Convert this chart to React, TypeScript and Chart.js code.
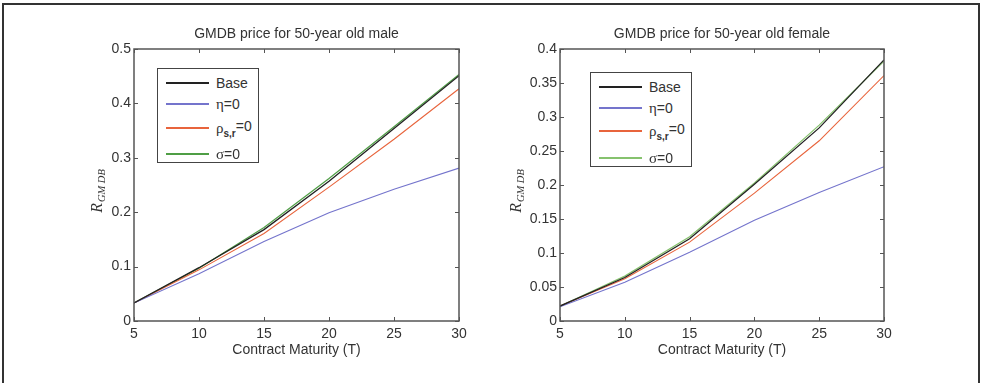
import React, { useEffect, useRef } from "react";
import { Chart, registerables } from "chart.js";

Chart.register(...registerables);

// ---- data ----
const maturities = [5, 10, 15, 20, 25, 30];
const xTicks = [5, 10, 15, 20, 25, 30];

const maleBase = [0.033, 0.098, 0.168, 0.257, 0.354, 0.451];
const maleEta = [0.033, 0.087, 0.146, 0.199, 0.242, 0.281];
const maleRho = [0.033, 0.094, 0.161, 0.246, 0.334, 0.427];
const maleSigma = [0.033, 0.097, 0.172, 0.262, 0.357, 0.453];
const maleYTicks = [0, 0.1, 0.2, 0.3, 0.4, 0.5];
const maleYLabels = ["0", "0.1", "0.2", "0.3", "0.4", "0.5"];

const femaleBase = [0.022, 0.064, 0.121, 0.201, 0.284, 0.384];
const femaleEta = [0.021, 0.057, 0.101, 0.148, 0.189, 0.227];
const femaleRho = [0.022, 0.062, 0.116, 0.188, 0.265, 0.361];
const femaleSigma = [0.022, 0.066, 0.124, 0.203, 0.288, 0.382];
const femaleYTicks = [0, 0.05, 0.1, 0.15, 0.2, 0.25, 0.3, 0.35, 0.4];
const femaleYLabels = ["0", "0.05", "0.1", "0.15", "0.2", "0.25", "0.3", "0.35", "0.4"];

const titleMale = "GMDB price for 50-year old male";
const titleFemale = "GMDB price for 50-year old female";
const xTitle = "Contract Maturity (T)";

const COL_BASE = "#222222";
const COL_ETA = "#7474cc";
const COL_RHO = "#e8643c";
const COL_SIGMA_M = "#4f9e45";
const COL_SIGMA_F = "#86c26e";

type Panel = {
  title: string;
  base: number[];
  eta: number[];
  rho: number[];
  sigma: number[];
  sigmaColor: string;
  yMax: number;
  yTicks: number[];
  yLabels: string[];
  yScaleWidth: number;
  padRight: number;
  yLabelX: number;
  canvasWidth: number;
};

const pts = (vals: number[]) => maturities.map((x, i) => ({ x, y: vals[i] }));

const axesBoxPlugin = {
  id: "axesBox",
  afterDraw(chart: any) {
    const { ctx, chartArea } = chart;
    const { left, right, top, bottom } = chartArea;
    const xs = chart.scales.x;
    const ys = chart.scales.y;
    ctx.save();
    ctx.strokeStyle = "#555555";
    ctx.lineWidth = 1.5;
    ctx.strokeRect(left, top, right - left, bottom - top);
    ctx.lineWidth = 1;
    ctx.beginPath();
    xs.ticks.forEach((t: any) => {
      const px = Math.round(xs.getPixelForValue(t.value)) + 0.5;
      ctx.moveTo(px, bottom);
      ctx.lineTo(px, bottom - 4);
      ctx.moveTo(px, top);
      ctx.lineTo(px, top + 4);
    });
    ys.ticks.forEach((t: any) => {
      const py = Math.round(ys.getPixelForValue(t.value)) + 0.5;
      ctx.moveTo(left, py);
      ctx.lineTo(left + 4, py);
      ctx.moveTo(right, py);
      ctx.lineTo(right - 4, py);
    });
    ctx.stroke();

    // y-axis label with subscript
    const lx = chart.options.plugins.yLabel?.x ?? 30;
    const cy = (top + bottom) / 2 + 6;
    ctx.translate(lx, cy);
    ctx.rotate(-Math.PI / 2);
    ctx.fillStyle = "#333333";
    ctx.textBaseline = "middle";
    ctx.textAlign = "left";
    ctx.font = "italic 16px 'Liberation Serif', 'DejaVu Serif', serif";
    const rW = ctx.measureText("R").width;
    ctx.font = "italic 10.5px 'Liberation Serif', 'DejaVu Serif', serif";
    const subW = ctx.measureText("GM DB").width;
    const total = rW + 1 + subW;
    ctx.font = "italic 16px 'Liberation Serif', 'DejaVu Serif', serif";
    ctx.fillText("R", -total / 2, 0);
    ctx.font = "italic 10.5px 'Liberation Serif', 'DejaVu Serif', serif";
    ctx.fillText("GM DB", -total / 2 + rW + 1, 4);
    ctx.restore();
  },
};

function PanelChart({ p }: { p: Panel }) {
  const ref = useRef<HTMLCanvasElement | null>(null);
  useEffect(() => {
    if (!ref.current) return;
    const chart = new Chart(ref.current, {
      type: "line",
      data: {
        datasets: [
          { label: "Base", data: pts(p.base), borderColor: COL_BASE, borderWidth: 1.3 },
          { label: "η=0", data: pts(p.eta), borderColor: COL_ETA, borderWidth: 1.1 },
          { label: "ρs,r=0", data: pts(p.rho), borderColor: COL_RHO, borderWidth: 1.1 },
          { label: "σ=0", data: pts(p.sigma), borderColor: p.sigmaColor, borderWidth: 1.2 },
        ],
      },
      options: {
        animation: false,
        responsive: false,
        maintainAspectRatio: false,
        layout: { padding: { left: 0, right: p.padRight, top: 0, bottom: 0 } },
        elements: { point: { radius: 0 }, line: { tension: 0 } },
        plugins: {
          legend: { display: false },
          tooltip: { enabled: false },
          title: {
            display: true,
            fullSize: false,
            align: "center",
            text: p.title,
            color: "#333333",
            font: { family: "Arial, 'Liberation Sans', sans-serif", size: 14, weight: "normal" },
            padding: { top: 26, bottom: 6.2 },
          },
          yLabel: { x: p.yLabelX },
        } as any,
        scales: {
          x: {
            type: "linear",
            min: 5,
            max: 30,
            afterBuildTicks: (s: any) => {
              s.ticks = xTicks.map((v) => ({ value: v }));
            },
            afterFit: (s: any) => {
              s.height = 62;
            },
            grid: { display: false, drawTicks: false },
            border: { display: false },
            ticks: {
              padding: 5,
              color: "#333333",
              font: { family: "Arial, 'Liberation Sans', sans-serif", size: 14 },
              callback: (v: any) => String(v),
              maxRotation: 0,
            },
            title: {
              display: true,
              text: xTitle,
              color: "#333333",
              font: { family: "Arial, 'Liberation Sans', sans-serif", size: 14 },
              padding: { top: 0, bottom: 24 },
            },
          },
          y: {
            type: "linear",
            min: 0,
            max: p.yMax,
            afterBuildTicks: (s: any) => {
              s.ticks = p.yTicks.map((v) => ({ value: v }));
            },
            afterFit: (s: any) => {
              s.width = p.yScaleWidth;
            },
            grid: { display: false, drawTicks: false },
            border: { display: false },
            ticks: {
              padding: 3,
              color: "#333333",
              font: { family: "Arial, 'Liberation Sans', sans-serif", size: 14 },
              callback: (v: any) => {
                const i = p.yTicks.findIndex((t) => Math.abs(t - v) < 1e-9);
                return i >= 0 ? p.yLabels[i] : "";
              },
            },
          },
        },
      } as any,
      plugins: [axesBoxPlugin],
    });
    return () => chart.destroy();
  }, [p]);
  return <canvas ref={ref} width={p.canvasWidth} height={383} style={{ width: p.canvasWidth, height: 383, display: "block" }} />;
}

const malePanel: Panel = {
  title: titleMale,
  base: maleBase,
  eta: maleEta,
  rho: maleRho,
  sigma: maleSigma,
  sigmaColor: COL_SIGMA_M,
  yMax: 0.5,
  yTicks: maleYTicks,
  yLabels: maleYLabels,
  yScaleWidth: 134,
  padRight: 31,
  yLabelX: 98,
  canvasWidth: 490,
};

const femalePanel: Panel = {
  title: titleFemale,
  base: femaleBase,
  eta: femaleEta,
  rho: femaleRho,
  sigma: femaleSigma,
  sigmaColor: COL_SIGMA_F,
  yMax: 0.4,
  yTicks: femaleYTicks,
  yLabels: femaleYLabels,
  yScaleWidth: 70,
  padRight: 99,
  yLabelX: 27,
  canvasWidth: 493,
};

const textFont = "Arial, 'Liberation Sans', sans-serif";
const greekFont = "'Liberation Serif', 'DejaVu Serif', serif";

function Legend({ left, top, sigmaColor, rows }: { left: number; top: number; sigmaColor: string; rows: number[] }) {
  const items: { color: string; content: React.ReactNode }[] = [
    { color: COL_BASE, content: <span>Base</span> },
    { color: COL_ETA, content: <span><span style={{ fontFamily: greekFont, fontSize: 15 }}>η</span>=0</span> },
    {
      color: COL_RHO,
      content: (
        <span>
          <span style={{ fontFamily: greekFont, fontSize: 15 }}>ρ</span>
          <sub style={{ fontSize: 10, fontWeight: "bold", verticalAlign: -4 }}>s,r</sub>
          <span style={{ position: "relative", top: -2 }}>=0</span>
        </span>
      ),
    },
    { color: sigmaColor, content: <span><span style={{ fontFamily: greekFont, fontSize: 15 }}>σ</span>=0</span> },
  ];
  return (
    <div
      style={{
        position: "absolute",
        left,
        top,
        width: 102,
        height: 95,
        border: "1.5px solid #444",
        background: "#fff",
        boxSizing: "border-box",
      }}
    >
      {items.map((it, i) => (
        <div key={i} style={{ position: "absolute", left: 0, top: rows[i] - 10, height: 20, width: 100 }}>
          <div style={{ position: "absolute", left: 8, top: 9, width: 43, height: 1.5, background: it.color }} />
          <div
            style={{
              position: "absolute",
              left: 58,
              top: 0,
              height: 20,
              lineHeight: "20px",
              fontFamily: textFont,
              fontSize: 14,
              color: "#333",
              whiteSpace: "nowrap",
            }}
          >
            {it.content}
          </div>
        </div>
      ))}
    </div>
  );
}

export default function App() {
  return (
    <div style={{ position: "absolute", left: 0, top: 0, width: 983, height: 383, background: "#fff", overflow: "hidden" }}>
      <div
        style={{
          position: "absolute",
          left: 2,
          top: 3,
          width: 978,
          height: 400,
          borderTop: "2px solid #333",
          borderLeft: "2px solid #333",
          borderRight: "2px solid #333",
          boxSizing: "border-box",
        }}
      />
      <div style={{ position: "absolute", left: 0, top: 0 }}>
        <PanelChart p={malePanel} />
      </div>
      <div style={{ position: "absolute", left: 490, top: 0 }}>
        <PanelChart p={femalePanel} />
      </div>
      <Legend left={157} top={68} sigmaColor={COL_SIGMA_M} rows={[14, 35, 59, 85]} />
      <Legend left={590} top={72} sigmaColor={COL_SIGMA_F} rows={[14, 35, 58, 85]} />
    </div>
  );
}
